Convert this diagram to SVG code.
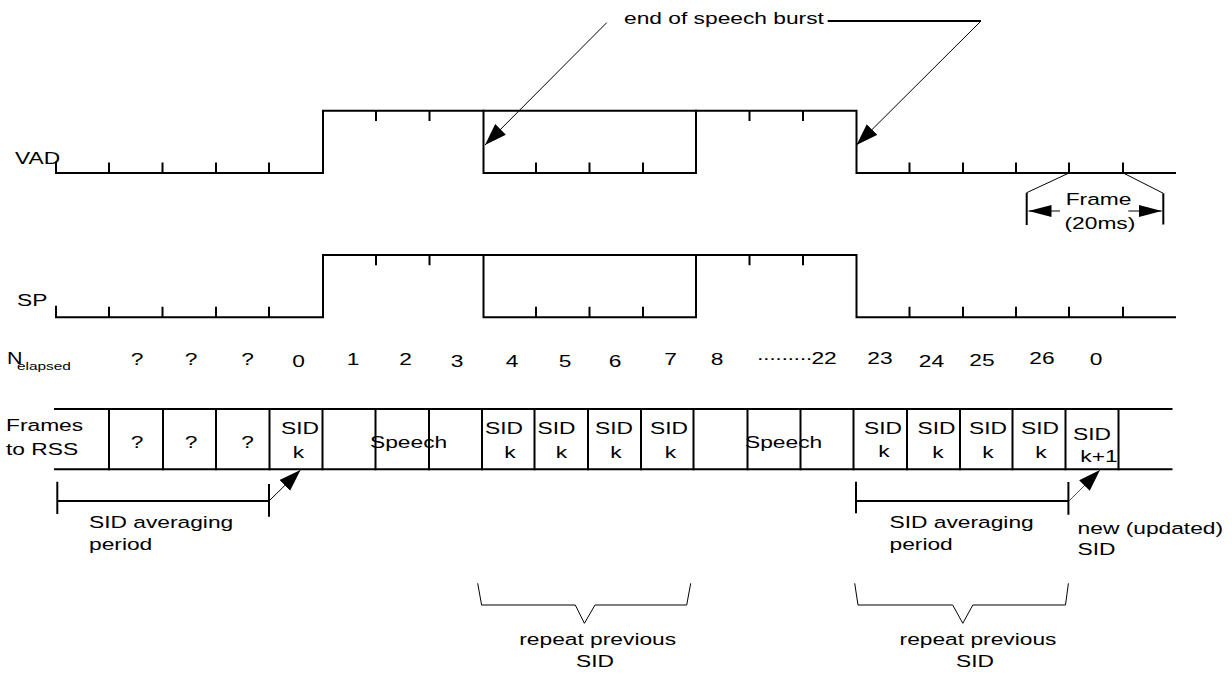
<svg xmlns="http://www.w3.org/2000/svg" width="1232" height="675" viewBox="0 0 1232 675">
<style>
.w{stroke:#000;stroke-width:2;fill:none;stroke-linecap:square}
.th{stroke:#000;stroke-width:1;fill:none}
.tk{stroke:#000;stroke-width:2;fill:none}
text{font-family:"Liberation Sans",Arial,sans-serif;font-size:17px;fill:#000}
.m{text-anchor:middle}
</style>
<defs>
<marker id="ah" markerUnits="userSpaceOnUse" markerWidth="24" markerHeight="16" refX="22" refY="8" orient="auto" viewBox="0 0 24 16"><path d="M0,0.5 L22,8 L0,15.5 z" fill="#000"/></marker>
<marker id="ahs" markerUnits="userSpaceOnUse" markerWidth="24" markerHeight="13" refX="23" refY="6.5" orient="auto" viewBox="0 0 24 13"><path d="M0,0.5 L23,6.5 L0,12.5 z" fill="#000"/></marker>
<g id="wave">
<path class="w" d="M56,162.5 V173 H323 V110.7 H856.5 V173 H1175"/>
<path class="w" d="M483.5,110.7 V173 H696 V110.7"/>
<path class="tk" d="M109,173 V162.5 M162.5,173 V162.5 M216,173 V162.5 M269,173 V162.5 M376,110.7 V121 M429.5,110.7 V121 M536,173 V162.5 M589.5,173 V162.5 M643,173 V162.5 M749.5,110.7 V121 M803,110.7 V121 M909.5,173 V162.5 M963,173 V162.5 M1016,173 V162.5 M1069,173 V162.5 M1123,173 V162.5"/>
</g>
</defs>

<g id="vad">
<text transform="translate(15,163.5) scale(1.34,1)">VAD</text>
<use href="#wave"/>
</g>

<g id="frame-annotation">
<path class="th" d="M1069,173 L1026.7,192.7 M1123.3,173 L1163.3,193.3"/>
<path class="tk" d="M1026.7,192.7 V225 M1163.3,193.3 V224.5"/>
<path class="th" d="M1060,211 H1028.5" marker-end="url(#ahs)"/>
<path class="th" d="M1128.3,211 H1161.8" marker-end="url(#ahs)"/>
<text transform="translate(1065.7,205) scale(1.34,1)">Frame</text>
<text transform="translate(1064.5,229) scale(1.34,1)">(20ms)</text>
</g>

<g id="sp">
<text transform="translate(17,306) scale(1.34,1)">SP</text>
<use href="#wave" y="144.3"/>
</g>

<g id="n-elapsed">
<text transform="translate(7,364) scale(1.34,1)" style="font-size:16px">N</text>
<text transform="translate(17,369.5) scale(1.34,1)" style="font-size:11.5px">elapsed</text>
<text class="m" transform="translate(137,365) scale(1.34,1)">?</text>
<text class="m" transform="translate(191,365) scale(1.34,1)">?</text>
<text class="m" transform="translate(247.5,365) scale(1.34,1)">?</text>
<text class="m" transform="translate(298.5,366.5) scale(1.34,1)">0</text>
<text class="m" transform="translate(353,365) scale(1.34,1)">1</text>
<text class="m" transform="translate(405.5,365) scale(1.34,1)">2</text>
<text class="m" transform="translate(457,366.5) scale(1.34,1)">3</text>
<text class="m" transform="translate(512,366.5) scale(1.34,1)">4</text>
<text class="m" transform="translate(565,366.5) scale(1.34,1)">5</text>
<text class="m" transform="translate(615,367) scale(1.34,1)">6</text>
<text class="m" transform="translate(670.5,365) scale(1.34,1)">7</text>
<text class="m" transform="translate(717,365) scale(1.34,1)">8</text>
<text transform="translate(756.5,363.5) scale(1.34,1)"><tspan letter-spacing="-1.1">·········</tspan>22</text>
<text class="m" transform="translate(880,363.5) scale(1.34,1)">23</text>
<text class="m" transform="translate(931.5,366.5) scale(1.34,1)">24</text>
<text class="m" transform="translate(982,366) scale(1.34,1)">25</text>
<text class="m" transform="translate(1042,363.5) scale(1.34,1)">26</text>
<text class="m" transform="translate(1096,365) scale(1.34,1)">0</text>
</g>

<g id="frames-to-rss">
<text transform="translate(6,431) scale(1.34,1)">Frames</text>
<text transform="translate(6,455) scale(1.34,1)">to RSS</text>
<path class="w" d="M55,409 H1171.5 M55,469.3 H1171.5"/>
<path class="w" d="M109,409 V469.3 M163,409 V469.3 M216,409 V469.3 M269.5,409 V469.3 M322.5,409 V469.3 M375.5,409 V469.3 M429,409 V469.3 M482,409 V469.3 M534.5,409 V469.3 M588,409 V469.3 M641,409 V469.3 M693.5,409 V469.3 M747.5,409 V469.3 M800.5,409 V469.3 M853.5,409 V469.3 M907,409 V469.3 M960,409 V469.3 M1012.5,409 V469.3 M1065.5,409 V469.3 M1118.5,409 V469.3"/>
<text class="m" transform="translate(137,447.5) scale(1.34,1)">?</text>
<text class="m" transform="translate(191,447.5) scale(1.34,1)">?</text>
<text class="m" transform="translate(247.5,447.5) scale(1.34,1)">?</text>
<text class="m" transform="translate(300,434) scale(1.34,1)">SID</text>
<text class="m" transform="translate(298.5,457.5) scale(1.34,1)">k</text>
<text transform="translate(370,448) scale(1.34,1)">Speech</text>
<text class="m" transform="translate(504,434) scale(1.34,1)">SID</text>
<text class="m" transform="translate(510,457.5) scale(1.34,1)">k</text>
<text class="m" transform="translate(556.5,434) scale(1.34,1)">SID</text>
<text class="m" transform="translate(561.5,457.5) scale(1.34,1)">k</text>
<text class="m" transform="translate(614,434) scale(1.34,1)">SID</text>
<text class="m" transform="translate(616,457.5) scale(1.34,1)">k</text>
<text class="m" transform="translate(669,434) scale(1.34,1)">SID</text>
<text class="m" transform="translate(670.5,457.5) scale(1.34,1)">k</text>
<text transform="translate(745,448) scale(1.34,1)">Speech</text>
<text class="m" transform="translate(883,434) scale(1.34,1)">SID</text>
<text class="m" transform="translate(884,457) scale(1.34,1)">k</text>
<text class="m" transform="translate(936.5,434) scale(1.34,1)">SID</text>
<text class="m" transform="translate(938,457.5) scale(1.34,1)">k</text>
<text class="m" transform="translate(988,434) scale(1.34,1)">SID</text>
<text class="m" transform="translate(988,457.5) scale(1.34,1)">k</text>
<text class="m" transform="translate(1040,434) scale(1.34,1)">SID</text>
<text class="m" transform="translate(1041,457.5) scale(1.34,1)">k</text>
<text class="m" transform="translate(1092,440) scale(1.34,1)">SID</text>
<text class="m" transform="translate(1099,461.5) scale(1.34,1)">k+1</text>
</g>

<g id="end-of-speech-burst">
<text transform="translate(624,24) scale(1.34,1)">end of speech burst</text>
</g>

<g id="sid-averaging-left">
<path class="tk" d="M57.3,481.7 V514 M57.3,501 H269 M269,484 V516.7"/>
<text transform="translate(89,528) scale(1.34,1)">SID averaging</text>
<text transform="translate(89,550) scale(1.34,1)">period</text>
</g>

<g id="sid-averaging-right">
<path class="tk" d="M856,481.7 V513.3 M856,501 H1068.4 M1068.4,482 V514.7"/>
<text transform="translate(889.5,528) scale(1.34,1)">SID averaging</text>
<text transform="translate(889.5,550) scale(1.34,1)">period</text>
</g>

<g id="new-sid">
<text transform="translate(1077.6,534) scale(1.34,1)">new (updated)</text>
<text transform="translate(1077.6,555) scale(1.34,1)">SID</text>
</g>

<g id="repeat-middle">
<path class="th" d="M477.7,583.3 L481.6,605 H575.3 L584.4,623.3 L595,605 H686.7 L690.7,583.3"/>
<text class="m" transform="translate(597.7,645) scale(1.34,1)">repeat previous</text>
<text class="m" transform="translate(595,667) scale(1.34,1)">SID</text>
</g>

<g id="repeat-right">
<path class="th" d="M854.7,583.3 L858,605 H952.7 L962.8,623.3 L972.8,605 H1065.5 L1068.4,583.3"/>
<text class="m" transform="translate(978,645) scale(1.34,1)">repeat previous</text>
<text class="m" transform="translate(975,667) scale(1.34,1)">SID</text>
</g>

<g id="connectors">
<path class="th" d="M606.7,22.7 L485,145" marker-end="url(#ah)"/>
<path class="tk" d="M827.7,21 H981"/>
<path class="th" d="M981,21 L856.5,145" marker-end="url(#ah)"/>
<path class="th" d="M269,501 L300.5,470" marker-end="url(#ah)"/>
<path class="th" d="M1069,501 L1100,470" marker-end="url(#ah)" style="stroke:#555"/>
</g>
</svg>
